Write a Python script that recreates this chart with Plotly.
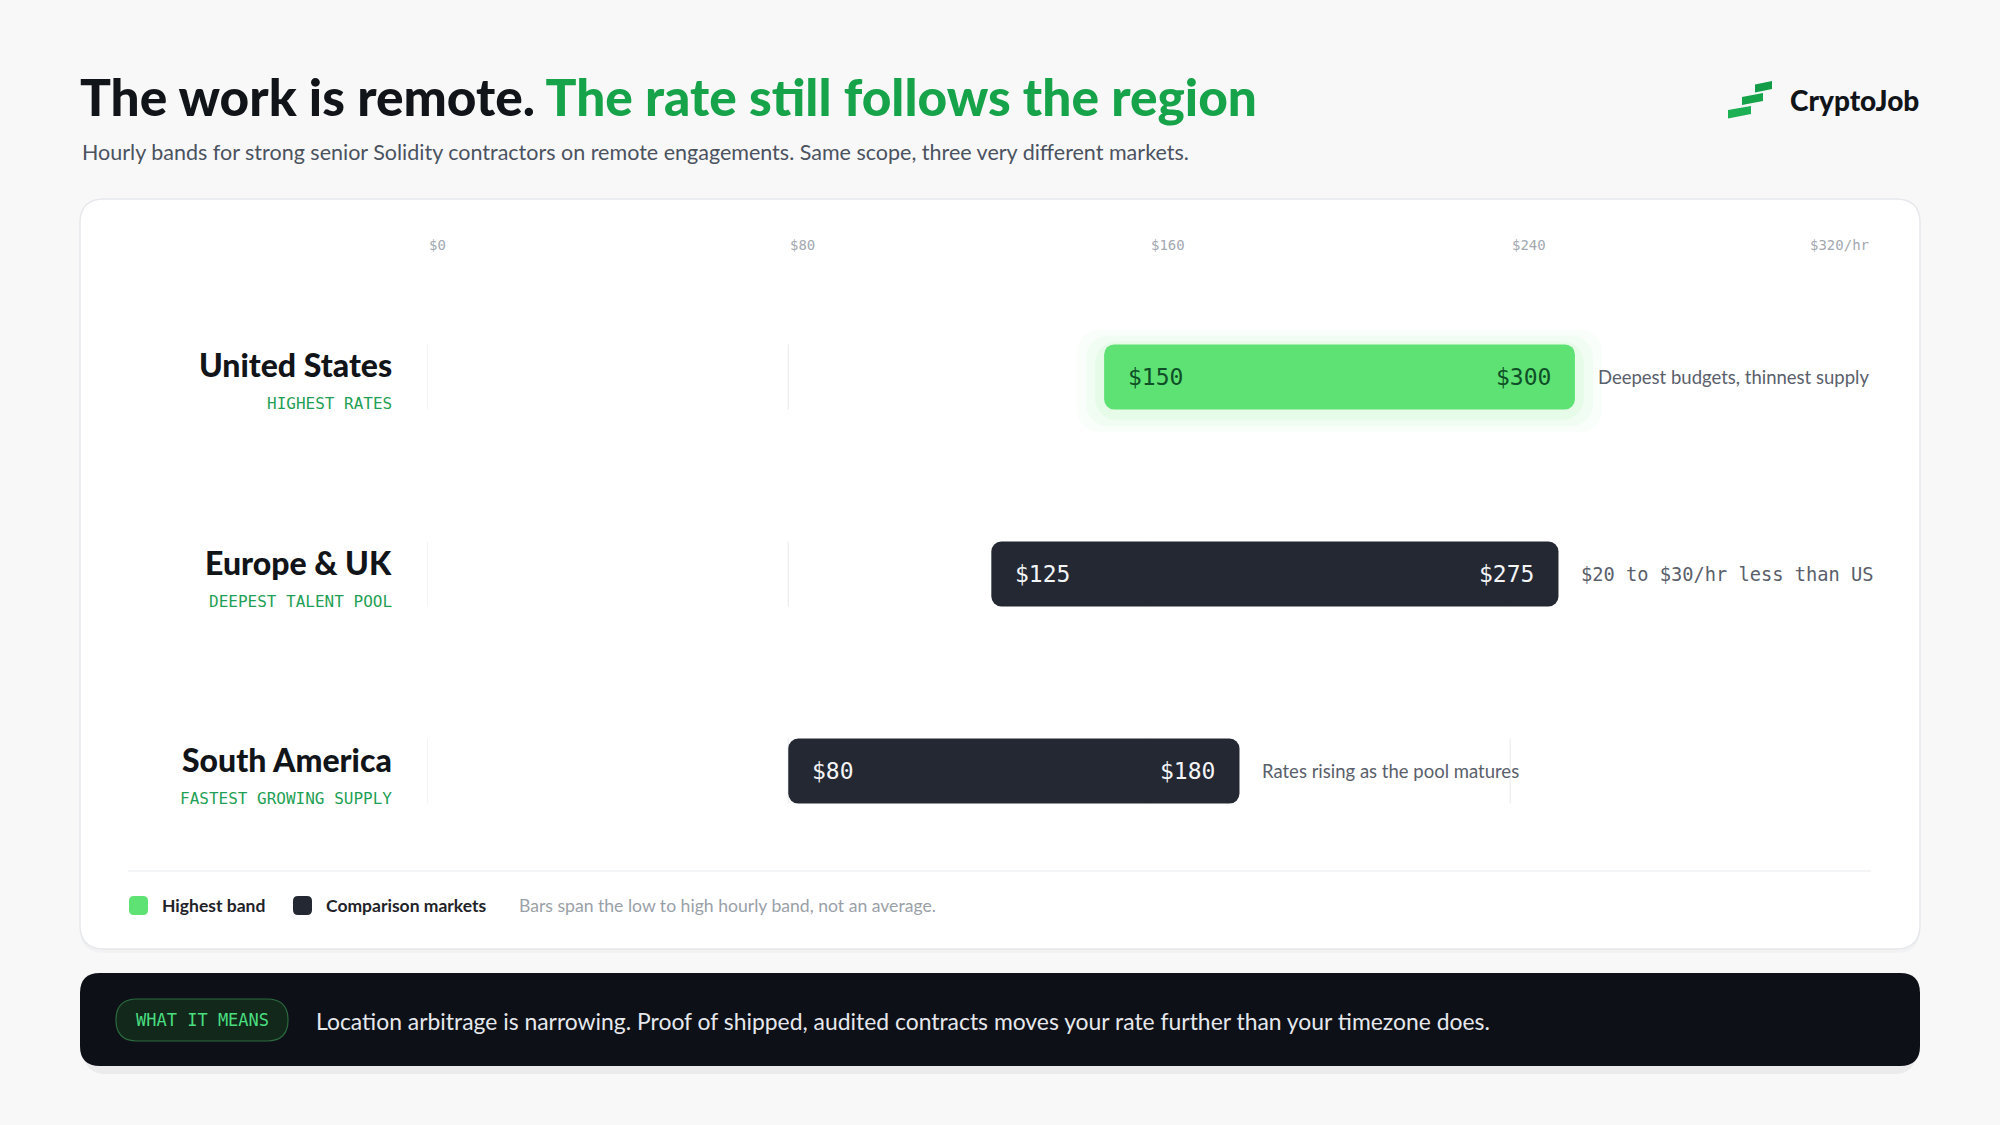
import plotly.graph_objects as go

# ---------------- data ----------------
regions = ["United States", "Europe & UK", "South America"]
taglines = ["HIGHEST RATES", "DEEPEST TALENT POOL", "FASTEST GROWING SUPPLY"]
low_rates = [150, 125, 80]
high_rates = [300, 275, 180]
notes = ["Deepest budgets, thinnest supply", "$20 to $30/hr less than US", "Rates rising as the pool matures"]
highlight = [True, False, False]
tick_values = [0, 80, 160, 240, 320]
tick_labels = ["$0", "$80", "$160", "$240", "$320/hr"]

title_a = "The work is remote."
title_b = "The rate still follows the region"
subtitle = "Hourly bands for strong senior Solidity contractors on remote engagements. Same scope, three very different markets."
legend_items = ["Highest band", "Comparison markets"]
legend_note = "Bars span the low to high hourly band, not an average."
pill_text = "WHAT IT MEANS"
banner_text = "Location arbitrage is narrowing. Proof of shipped, audited contracts moves your rate further than your timezone does."
brand = "CryptoJob"

# ---------------- style ----------------
W, H = 2000, 1125
SANS = "Lato"
MONO = "DejaVu Sans Mono"
GREEN = "#5DE273"
DARK_BAR = "#232833"
INK = "#111418"
ACCENT = "#17A34A"
TAG_GREEN = "#1F9F55"
note_mono = [False, True, False]

AX_L, AX_R = 427.3, 1871.2       # pixel extent of x axis
ROW_PX = 197.1                  # pixel distance between rows
ROW1_PX = 574.0                 # pixel centre of middle row
BAR_H = 0.33
NOTE_GAP = 21
px_per_val = (AX_R - AX_L) / (tick_values[-1] - tick_values[0])


def px(x):
    return x / W


def py(y):
    return 1 - y / H


def rrect(x0, y0, x1, y1, r):
    """rounded rectangle path in paper coords from pixel box"""
    pts = [
        f"M {px(x0 + r)},{py(y0)}",
        f"L {px(x1 - r)},{py(y0)}",
        f"Q {px(x1)},{py(y0)} {px(x1)},{py(y0 + r)}",
        f"L {px(x1)},{py(y1 - r)}",
        f"Q {px(x1)},{py(y1)} {px(x1 - r)},{py(y1)}",
        f"L {px(x0 + r)},{py(y1)}",
        f"Q {px(x0)},{py(y1)} {px(x0)},{py(y1 - r)}",
        f"L {px(x0)},{py(y0 + r)}",
        f"Q {px(x0)},{py(y0)} {px(x0 + r)},{py(y0)}",
        "Z",
    ]
    return " ".join(pts)


def poly(points):
    s = "M " + " L ".join(f"{px(x)},{py(y)}" for x, y in points) + " Z"
    return s


n = len(regions)
row_y = [n - 1 - i for i in range(n)]  # top row highest

NOTE_FS = [18.5, 18.7, 18.5]
# bar visible end: leave room for the note before the axis end
vis_end = []
for i in range(n):
    fs = NOTE_FS[i]
    cw = 0.6 * fs if note_mono[i] else 0.465 * fs
    note_w = len(notes[i]) * cw
    limit_val = (AX_R - note_w - NOTE_GAP - AX_L) / px_per_val
    vis_end.append(min(high_rates[i], limit_val))

fig = go.Figure()

# soft glow behind highlighted bars
for i in range(n):
    if highlight[i]:
        for ext, wid, op in [(6, 0.52, 0.035), (4, 0.46, 0.05), (2, 0.40, 0.07)]:
            fig.add_trace(go.Bar(
                y=[row_y[i] - 0.02], base=[low_rates[i] - ext], x=[vis_end[i] - low_rates[i] + 2 * ext],
                orientation="h", width=wid,
                marker=dict(color=GREEN, opacity=op, cornerradius=22, line=dict(width=0)),
                hoverinfo="skip", showlegend=False,
            ))

fig.add_trace(go.Bar(
    y=row_y,
    base=low_rates,
    x=[vis_end[i] - low_rates[i] for i in range(n)],
    orientation="h",
    width=BAR_H,
    marker=dict(color=[GREEN if h else DARK_BAR for h in highlight], cornerradius=10, line=dict(width=0)),
    hoverinfo="skip",
    showlegend=False,
))

shapes = []
# background card
shapes.append(dict(type="path", xref="paper", yref="paper", path=rrect(80, 203, 1920, 953, 24),
                   fillcolor="rgba(0,0,0,0.025)", line=dict(width=0), layer="below"))
shapes.append(dict(type="path", xref="paper", yref="paper", path=rrect(80, 199, 1920, 949, 24),
                   fillcolor="#FFFFFF", line=dict(color="#E6E8EB", width=1.5), layer="below"))
# per-row grid segments
for i in range(n):
    for t in tick_values[:-1]:
        shapes.append(dict(type="line", xref="x", yref="y", x0=t, x1=t,
                           y0=row_y[i] - BAR_H / 2, y1=row_y[i] + BAR_H / 2,
                           line=dict(color="#EEF0F2", width=1.5), layer="below"))
# legend divider
shapes.append(dict(type="line", xref="paper", yref="paper", x0=px(128), x1=px(1871), y0=py(871), y1=py(871),
                   line=dict(color="#EFF1F3", width=1.5), layer="below"))
# legend swatches
shapes.append(dict(type="path", xref="paper", yref="paper", path=rrect(129, 896, 148, 915, 5),
                   fillcolor=GREEN, line=dict(width=0)))
shapes.append(dict(type="path", xref="paper", yref="paper", path=rrect(293, 896, 312, 915, 5),
                   fillcolor=DARK_BAR, line=dict(width=0)))
# banner shadow + banner
shapes.append(dict(type="path", xref="paper", yref="paper", path=rrect(84, 979, 1916, 1074, 22),
                   fillcolor="rgba(0,0,0,0.05)", line=dict(width=0)))
shapes.append(dict(type="path", xref="paper", yref="paper", path=rrect(80, 973, 1920, 1066, 20),
                   fillcolor="#0D1017", line=dict(width=0)))
# pill
shapes.append(dict(type="path", xref="paper", yref="paper", path=rrect(116, 999, 288, 1041, 21),
                   fillcolor="#11281A", line=dict(color="#2C6B3F", width=1.2)))
# logo mark
shapes.append(dict(type="path", xref="paper", yref="paper",
                   path=poly([(1755, 84.5), (1772, 81), (1772, 89), (1755, 92.5)]),
                   fillcolor="#139C47", line=dict(width=0)))
shapes.append(dict(type="path", xref="paper", yref="paper",
                   path=poly([(1742, 97), (1763, 93), (1763, 101), (1742, 105)]),
                   fillcolor="#17A34A", line=dict(width=0)))
shapes.append(dict(type="path", xref="paper", yref="paper",
                   path=poly([(1728, 110), (1751, 106), (1751, 114), (1728, 118.5)]),
                   fillcolor="#1DB055", line=dict(width=0)))

ann = []
# title
ann.append(dict(xref="paper", yref="paper", x=px(78), y=py(96), xanchor="left", yanchor="middle",
                text=f"{title_a} <span style='color:{ACCENT}'>{title_b}</span>",
                font=dict(family=SANS, size=51.4, color=INK, weight=900), showarrow=False))
ann.append(dict(xref="paper", yref="paper", x=px(80), y=py(152), xanchor="left", yanchor="middle",
                text=subtitle, font=dict(family=SANS, size=21.5, color="#4B5260"), showarrow=False))
# brand
ann.append(dict(xref="paper", yref="paper", x=px(1921), y=py(100), xanchor="right", yanchor="middle",
                text=brand, font=dict(family=SANS, size=28, color=INK, weight=900), showarrow=False))

# axis tick labels
for j, (t, lab) in enumerate(zip(tick_values, tick_labels)):
    last = j == len(tick_values) - 1
    ann.append(dict(xref="x", yref="paper", x=t, y=py(245), xanchor="right" if last else "left",
                    yanchor="middle", text=lab, font=dict(family=MONO, size=14, color="#A3A8B0"),
                    showarrow=False))

# rows
for i in range(n):
    ann.append(dict(xref="paper", yref="y", x=px(394), y=row_y[i], yshift=12, xanchor="right",
                    yanchor="middle", text=regions[i],
                    font=dict(family=SANS, size=32, color=INK, weight=900), showarrow=False))
    ann.append(dict(xref="paper", yref="y", x=px(394), y=row_y[i], yshift=-27, xanchor="right",
                    yanchor="middle", text=taglines[i],
                    font=dict(family=MONO, size=16, color=TAG_GREEN), showarrow=False))
    lab_col = "#0F4F27" if highlight[i] else "#F3F4F6"
    ann.append(dict(xref="x", yref="y", x=low_rates[i], y=row_y[i], xshift=22, xanchor="left",
                    yanchor="middle", text=f"${low_rates[i]}",
                    font=dict(family=MONO, size=23, color=lab_col, weight=500), showarrow=False))
    ann.append(dict(xref="x", yref="y", x=vis_end[i], y=row_y[i], xshift=-22, xanchor="right",
                    yanchor="middle", text=f"${high_rates[i]}",
                    font=dict(family=MONO, size=23, color=lab_col, weight=500), showarrow=False))
    ann.append(dict(xref="x", yref="y", x=vis_end[i], y=row_y[i], xshift=NOTE_GAP, xanchor="left",
                    yanchor="middle", text=notes[i],
                    font=dict(family=MONO if note_mono[i] else SANS, size=NOTE_FS[i],
                              color="#5A606B"), showarrow=False))

# legend texts
ann.append(dict(xref="paper", yref="paper", x=px(160), y=py(905), xanchor="left", yanchor="middle",
                text=legend_items[0], font=dict(family=SANS, size=17.5, color="#1F2329", weight=700),
                showarrow=False))
ann.append(dict(xref="paper", yref="paper", x=px(324), y=py(905), xanchor="left", yanchor="middle",
                text=legend_items[1], font=dict(family=SANS, size=17.5, color="#1F2329", weight=700),
                showarrow=False))
ann.append(dict(xref="paper", yref="paper", x=px(517), y=py(905), xanchor="left", yanchor="middle",
                text=legend_note, font=dict(family=SANS, size=17.6, color="#9AA0A8"), showarrow=False))
# banner
ann.append(dict(xref="paper", yref="paper", x=px(202), y=py(1020), xanchor="center", yanchor="middle",
                text=pill_text, font=dict(family=MONO, size=17, color="#4ADE80"), showarrow=False))
ann.append(dict(xref="paper", yref="paper", x=px(314), y=py(1021), xanchor="left", yanchor="middle",
                text=banner_text, font=dict(family=SANS, size=22.9, color="#E6E8EC"), showarrow=False))

dom_h = 3 * ROW_PX / H
dom_c = py(ROW1_PX)
fig.update_layout(
    width=W, height=H,
    margin=dict(l=0, r=0, t=0, b=0),
    paper_bgcolor="#F8F8F8",
    plot_bgcolor="rgba(0,0,0,0)",
    barmode="overlay",
    showlegend=False,
    xaxis=dict(domain=[px(AX_L), px(AX_R)], range=[tick_values[0], tick_values[-1]], visible=False,
               fixedrange=True),
    yaxis=dict(domain=[dom_c - dom_h / 2, dom_c + dom_h / 2], range=[-0.5, n - 0.5], visible=False,
               fixedrange=True),
    shapes=shapes,
    annotations=ann,
)

fig.write_html("out.html", config={"displayModeBar": False},
               post_script="document.body.style.margin='0';document.body.style.background='#F8F8F8';")
